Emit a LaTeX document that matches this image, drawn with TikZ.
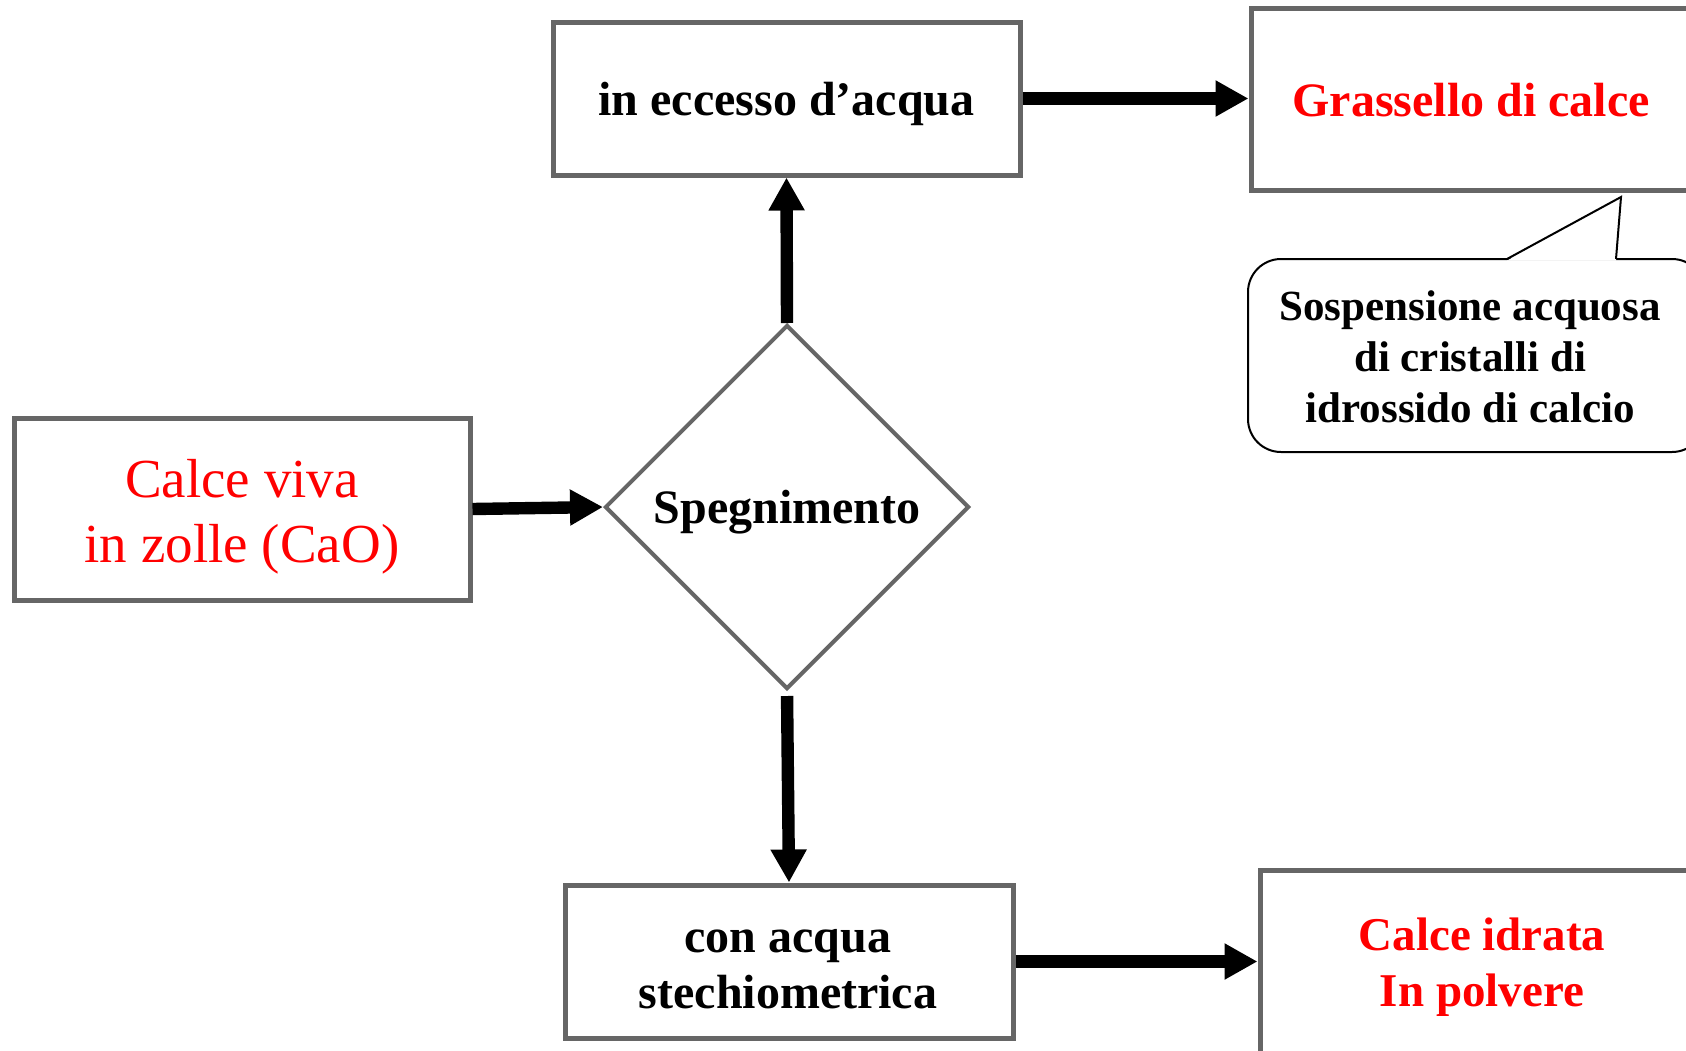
\documentclass[tikz,border=0pt]{standalone}
\usepackage{fontspec}
\setmainfont{Liberation Serif}
\usetikzlibrary{shapes.geometric,arrows.meta}
\definecolor{boxgray}{RGB}{102,102,102}
\definecolor{txtred}{RGB}{255,0,0}
\begin{document}
\begin{tikzpicture}[x=0.5pt,y=-0.5pt,
  box/.style={draw=boxgray,line width=2.5pt,fill=white,rectangle,inner sep=0pt},
  txt/.style={inner sep=0pt,align=center,font=\fontsize{24}{28}\selectfont\bfseries},
  decision/.style={draw=boxgray,line width=2pt,fill=white,diamond,inner sep=0pt,
    minimum width=182pt,minimum height=182pt},
  bubble/.style={draw=black,line width=1pt,fill=white,rectangle,rounded corners=16.5pt,
    inner sep=0pt},
  flow/.style={line width=6.2pt,-{Triangle[length=16.5pt,width=17pt]}}]
\clip (0,0) rectangle (1686,1050);
\fill[white] (0,0) rectangle (1686,1050);

\node[box,minimum width=228pt,minimum height=91pt] (viva) at (242,509) {};
\node[txt,font=\fontsize{27.5}{32.5}\selectfont,text=txtred] (viva-t)
  at ([yshift=-3.7pt]viva.center) {Calce viva\\in zolle (CaO)};
\node[decision] (speg) at (787,507) {};
\node[txt] (speg-t) at ([yshift=-2.7pt]speg.center) {Spegnimento};
\node[box,minimum width=233.5pt,minimum height=76.5pt] (ecc) at (786.5,98.5) {};
\node[txt] (ecc-t) at ([yshift=-2.7pt]ecc.center) {in eccesso d’acqua};
\node[box,minimum width=225pt,minimum height=91pt] (gras) at (1476,99) {};
\node[txt,text=txtred] (gras-t) at ([xshift=-2.5pt,yshift=-0.5pt]gras.center) {Grassello di calce};
\node[bubble,minimum width=228.5pt,minimum height=96.5pt] (sosp) at (1476.5,355.5) {};
\node[txt,font=\fontsize{21.5}{25.5}\selectfont\bfseries] (sosp-t)
  at ([xshift=-3.2pt,yshift=-0.4pt]sosp.center)
  {Sospensione acquosa\\di cristalli di\\idrossido di calcio};
\fill[white] (1507,260.5) -- (1621,197) -- (1616,260.5) -- cycle;
\draw[line width=1pt] (1507,259) -- (1621,197) -- (1616,259);
\node[box,minimum width=224pt,minimum height=76.5pt] (stech) at (789,961.5) {};
\node[txt] (stech-t) at ([xshift=-0.5pt,yshift=-4pt]stech.center) {con acqua\\stechiometrica};
\node[box,minimum width=222pt,minimum height=95pt] (idr) at (1482,965) {};
\node[txt,text=txtred,font=\fontsize{23.5}{28}\selectfont\bfseries] (idr-t)
  at ([yshift=-1pt]idr.center) {Calce idrata\\In polvere};

\draw[flow] (viva.east) -- (speg.west);
\draw[flow] (speg.north) -- (ecc.south);
\draw[flow] (ecc.east) -- (ecc.east -| gras.west);
\draw[flow,shorten <=2.5pt] (speg.south) -- (stech.north);
\draw[flow] (stech.east) -- (stech.east -| idr.west);
\end{tikzpicture}
\end{document}
